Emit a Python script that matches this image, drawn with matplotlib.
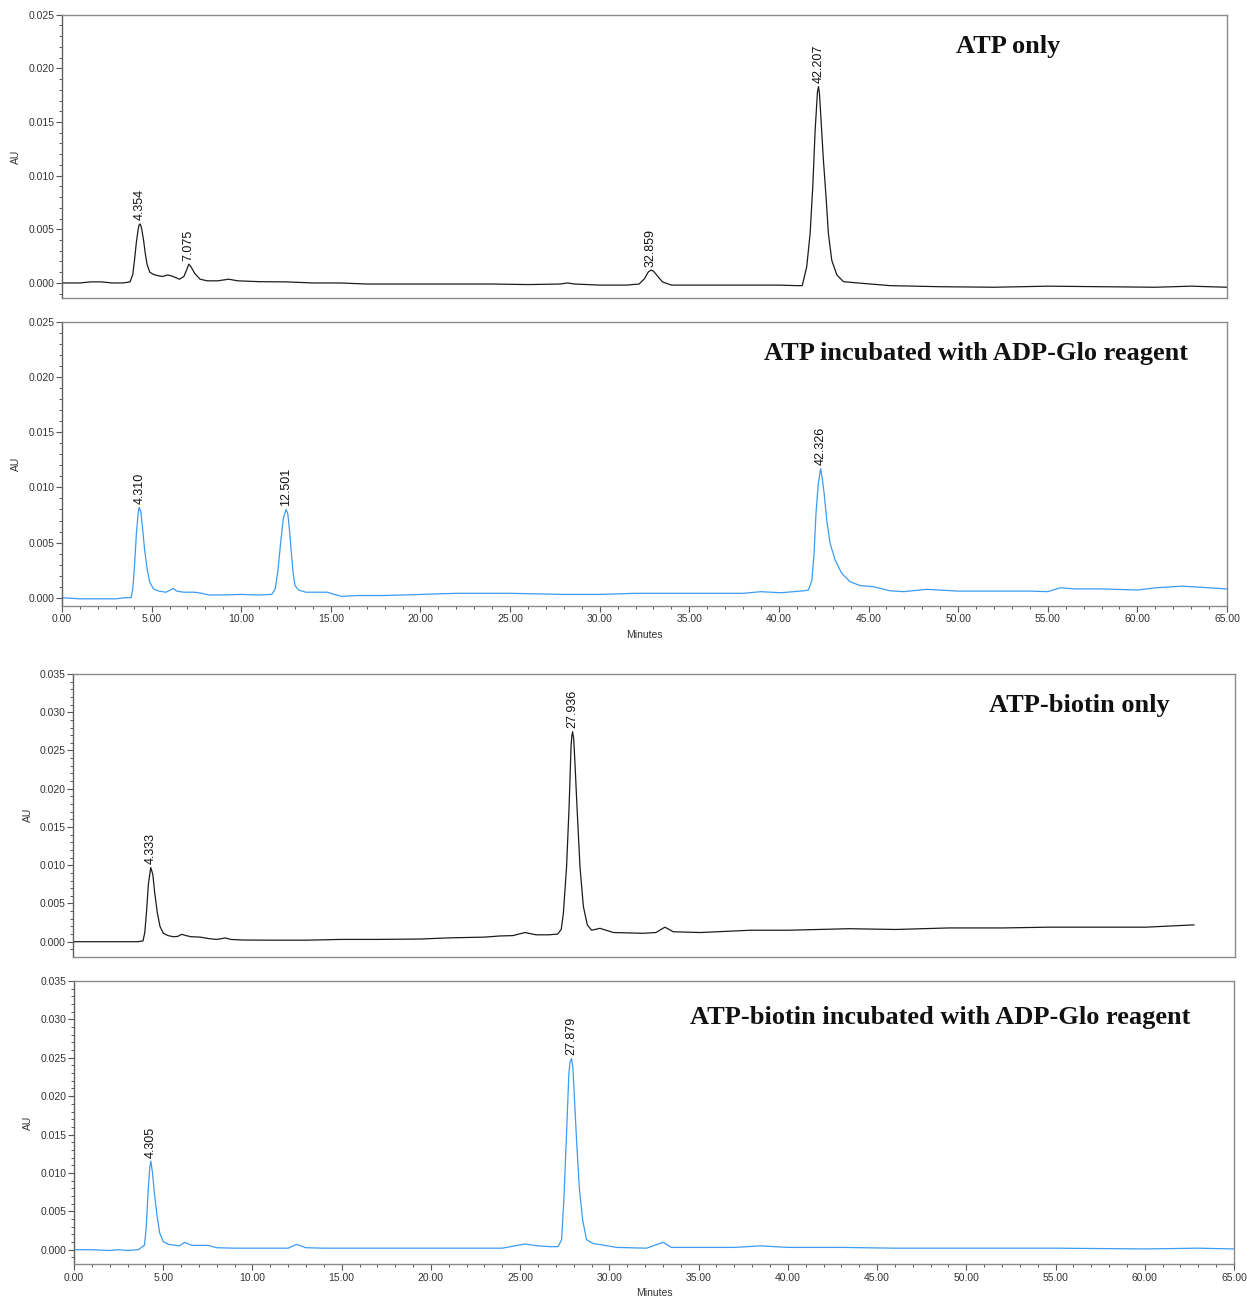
import numpy as np
import matplotlib
matplotlib.use("Agg")
import matplotlib.pyplot as plt
from matplotlib.ticker import MultipleLocator, FormatStrFormatter

plt.rcParams['font.family'] = ['Liberation Sans', 'DejaVu Sans']

# ---------------- data ----------------
# Panel 1: ATP only (minutes, AU)
t_atp = [0, 0.5, 1.0, 1.6, 2.2, 2.8, 3.4, 3.8, 3.95, 4.05, 4.15, 4.25, 4.30, 4.354, 4.41, 4.45,
         4.55, 4.65, 4.75, 4.9, 5.1, 5.3, 5.6, 5.9, 6.2, 6.55, 6.8, 6.95, 7.075, 7.2, 7.4, 7.7,
         8.1, 8.7, 9.3, 9.8, 11, 12.5, 14, 15.5, 17, 18.5, 20, 22, 24, 26, 27.8, 28.2, 28.6, 30,
         31.5, 32.2, 32.5, 32.7, 32.859, 33.0, 33.2, 33.5, 34, 36, 38, 40, 41.0, 41.3, 41.55,
         41.74, 41.89, 42.02, 42.15, 42.207, 42.26, 42.35, 42.48, 42.63, 42.76, 42.95, 43.23,
         43.6, 44.4, 46.2, 49, 52, 55, 58, 61, 63, 65]
au_atp = [0.0000, 0.0000, 0.0000, 0.0001, 0.0001, 0.0000, 0.0000, 0.0001, 0.0008, 0.0022,
          0.0038, 0.0050, 0.0054, 0.0055, 0.0053, 0.0050, 0.0040, 0.0027, 0.0017, 0.0010,
          0.0008, 0.0007, 0.0006, 0.00075, 0.0006, 0.00035, 0.0006, 0.0012, 0.00175, 0.0015,
          0.0009, 0.00035, 0.0002, 0.0002, 0.00035, 0.0002, 0.00012, 0.0001, 0.0000, 0.0000,
          -0.0001, -0.0001, -0.0001, -0.0001, -0.0001, -0.00015, -0.0001, 0.0000, -0.0001,
          -0.0002, -0.0002, -0.0001, 0.0004, 0.0010, 0.0012, 0.0011, 0.0007, 0.0001, -0.0002,
          -0.0002, -0.0002, -0.0002, -0.00025, -0.00025, 0.0015, 0.0046, 0.0090, 0.0142,
          0.0178, 0.0183, 0.0177, 0.0152, 0.0115, 0.0080, 0.0046, 0.0021, 0.00075, 0.00012,
          0.0000, -0.00025, -0.00035, -0.0004, -0.0003, -0.00035, -0.0004, -0.0003, -0.0004]
peaks_atp = ["4.354", "7.075", "32.859", "42.207"]

# Panel 2: ATP incubated with ADP-Glo reagent
t_atp_glo = [0, 1, 2, 3, 3.5, 3.85, 3.95, 4.05, 4.15, 4.25, 4.31, 4.4, 4.5, 4.6, 4.75, 4.9,
             5.1, 5.4, 5.8, 6.05, 6.2, 6.4, 6.8, 7.4, 7.8, 8.2, 9, 10, 11, 11.7, 11.9, 12.05,
             12.2, 12.35, 12.501, 12.6, 12.7, 12.8, 12.9, 13.0, 13.2, 13.6, 14.2, 14.8, 15.2,
             15.6, 16.5, 18, 20, 22, 25, 28, 30, 32, 35, 38, 39, 40.1, 41.4, 41.65, 41.84,
             41.96, 42.07, 42.2, 42.326, 42.42, 42.52, 42.67, 42.86, 43.14, 43.51, 43.97, 44.53,
             45.27, 46.2, 46.95, 48.25, 50, 52, 54, 55, 55.7, 56.5, 58, 60, 61, 62.5, 64, 65]
au_atp_glo = [0.0000, -0.0001, -0.0001, -0.0001, 0.0000, 0.0000, 0.0008, 0.0030, 0.0058,
              0.0077, 0.0082, 0.0078, 0.0062, 0.0045, 0.0026, 0.0014, 0.0008, 0.0006, 0.0005,
              0.0007, 0.00085, 0.0006, 0.0005, 0.0005, 0.0004, 0.00025, 0.00025, 0.0003,
              0.00025, 0.0003, 0.0008, 0.0025, 0.0050, 0.0072, 0.0080, 0.0076, 0.0060, 0.0040,
              0.0022, 0.0011, 0.0007, 0.0005, 0.0005, 0.0005, 0.0003, 0.00012, 0.0002, 0.0002,
              0.0003, 0.0004, 0.0004, 0.0003, 0.0003, 0.0004, 0.0004, 0.0004, 0.00055, 0.00045,
              0.00063, 0.0007, 0.0016, 0.0040, 0.0077, 0.0104, 0.0117, 0.0108, 0.0095, 0.0070,
              0.0049, 0.0034, 0.0022, 0.00145, 0.0011, 0.0010, 0.00063, 0.00055, 0.00076, 0.0006,
              0.0006, 0.0006, 0.00055, 0.0009, 0.0008, 0.0008, 0.0007, 0.0009, 0.00105, 0.0009,
              0.0008]
peaks_atp_glo = ["4.310", "12.501", "42.326"]

# Panel 3: ATP-biotin only
t_bio = [0, 1, 2, 3, 3.6, 3.9, 4.0, 4.1, 4.2, 4.333, 4.45, 4.55, 4.7, 4.85, 5.04, 5.3, 5.6,
         5.85, 6.07, 6.3, 6.6, 7.1, 7.6, 8.0, 8.3, 8.5, 8.8, 9.5, 11, 13, 15, 17, 19.4, 21, 23,
         23.87, 24.6, 25.27, 25.9, 26.6, 27.1, 27.3, 27.42, 27.6, 27.74, 27.85, 27.89, 27.936,
         28.0, 28.07, 28.2, 28.35, 28.54, 28.76, 29.0, 29.47, 30.22, 31.9, 32.6, 33.1, 33.57,
         35.07, 37.9, 40, 43.4, 46, 49, 52, 54.6, 57.5, 60, 62.7]
au_bio = [0.0000, 0.0000, 0.0000, 0.0000, 0.0000, 0.0001, 0.0012, 0.0040, 0.0075, 0.0097,
          0.0088, 0.0065, 0.0038, 0.0020, 0.0011, 0.0008, 0.00065, 0.0007, 0.00097, 0.0008,
          0.00065, 0.0006, 0.0004, 0.0003, 0.0004, 0.0005, 0.0003, 0.00022, 0.0002, 0.0002,
          0.0003, 0.0003, 0.00035, 0.0005, 0.0006, 0.00075, 0.0008, 0.0012, 0.0009, 0.0009,
          0.0010, 0.0016, 0.0037, 0.0098, 0.0176, 0.0255, 0.0268, 0.02745, 0.0265, 0.0233,
          0.0168, 0.0098, 0.0046, 0.0022, 0.0015, 0.00175, 0.0012, 0.0011, 0.0012, 0.0019,
          0.0013, 0.0012, 0.0015, 0.0015, 0.0017, 0.0016, 0.0018, 0.0018, 0.0019, 0.0019,
          0.0019, 0.0022]
peaks_bio = ["4.333", "27.936"]

# Panel 4: ATP-biotin incubated with ADP-Glo reagent
t_bio_glo = [0, 1, 2, 2.5, 3, 3.6, 3.95, 4.05, 4.15, 4.25, 4.305, 4.4, 4.5, 4.65, 4.8, 5.0,
             5.3, 5.9, 6.2, 6.6, 7.5, 8.0, 9, 10, 11, 12, 12.47, 13, 14, 16, 18, 20, 22, 24,
             25.27, 26, 26.67, 27.13, 27.32, 27.45, 27.6, 27.73, 27.8, 27.879, 27.95, 28.01,
             28.16, 28.31, 28.5, 28.72, 29.1, 29.65, 30.4, 32.08, 33.01, 33.48, 35, 37, 38.5,
             40, 43, 46, 50, 55, 60, 63, 65]
au_bio_glo = [0.0000, 0.0000, -0.0001, 0.0000, -0.0001, 0.0000, 0.0006, 0.0030, 0.0075,
              0.0108, 0.01155, 0.0100, 0.0075, 0.0045, 0.0022, 0.00104, 0.0007, 0.0005,
              0.00096, 0.00057, 0.00057, 0.00026, 0.0002, 0.0002, 0.0002, 0.0002, 0.0007,
              0.00026, 0.0002, 0.0002, 0.0002, 0.0002, 0.0002, 0.0002, 0.00074, 0.0005, 0.0004,
              0.0004, 0.0013, 0.0065, 0.0152, 0.0230, 0.0245, 0.0249, 0.0238, 0.0212, 0.0143,
              0.0082, 0.0039, 0.0013, 0.0008, 0.0006, 0.0003, 0.0002, 0.00096, 0.0003, 0.0003,
              0.0003, 0.0005, 0.0003, 0.0003, 0.0002, 0.0002, 0.0002, 0.0001, 0.0002, 0.0001]
peaks_bio_glo = ["4.305", "27.879"]

titles = ["ATP only", "ATP incubated with ADP-Glo reagent",
          "ATP-biotin only", "ATP-biotin incubated with ADP-Glo reagent"]

# ---------------- figure ----------------
W, H = 1247, 1299
fig = plt.figure(figsize=(W / 100, H / 100), dpi=100)


def rect(l, r, top, bottom):
    return [l / W, 1 - bottom / H, (r - l) / W, (bottom - top) / H]


BLACK = "#1c1c1c"
BLUE = "#3b9cf2"
SPINE = "#8a8a8a"
TICKC = "#555555"
LABC = "#333333"


def panel(box, t, v, color, ylim, peaks, show_x, title, title_xy):
    ax = fig.add_axes(rect(*box))
    ax.plot(t, v, color=color, lw=0.9)
    ax.set_xlim(0, 65)
    ax.set_ylim(*ylim)
    for s in ax.spines.values():
        s.set_color(SPINE)
        s.set_linewidth(1.0)
    ax.spines['left'].set_color("#606060")
    ax.yaxis.set_major_locator(MultipleLocator(0.005))
    ax.yaxis.set_minor_locator(MultipleLocator(0.001))
    ax.yaxis.set_major_formatter(FormatStrFormatter('%.3f'))
    ax.xaxis.set_major_locator(MultipleLocator(5))
    ax.xaxis.set_minor_locator(MultipleLocator(1))
    ax.xaxis.set_major_formatter(FormatStrFormatter('%.2f'))
    ax.tick_params(axis='y', which='major', length=4, width=0.8, color=TICKC,
                   labelsize=7.5, labelcolor=LABC, pad=1.5, right=False)
    ax.tick_params(axis='y', which='minor', length=2.5, width=0.7, color=TICKC, right=False)
    if show_x:
        ax.tick_params(axis='x', which='major', length=4, width=0.8, color=TICKC,
                       labelsize=7.5, labelcolor=LABC, pad=2, top=False)
        ax.tick_params(axis='x', which='minor', length=2.5, width=0.7, color=TICKC, top=False)
        ax.set_xlabel("Minutes", fontsize=7.5, color=LABC)
        ax.xaxis.set_label_coords(0.5, -0.085)
    else:
        ax.tick_params(axis='x', which='both', bottom=False, top=False, labelbottom=False)
    ax.set_ylabel("AU", fontsize=7.5, color=LABC)
    ax.yaxis.set_label_coords(-0.035, 0.5)
    ta = np.array(t, dtype=float)
    va = np.array(v, dtype=float)
    for lab in peaks:
        rt = float(lab)
        h = float(np.interp(rt, ta, va))
        ax.annotate(lab, xy=(rt, h), xytext=(0, 2.5), textcoords='offset points',
                    rotation=90, ha='center', va='bottom', fontsize=9, color="#111111")
    fig.text(title_xy[0] / W, 1 - title_xy[1] / H, title, ha='right', va='baseline',
             fontsize=19, fontweight='bold', family=['Liberation Serif', 'DejaVu Serif'],
             color="#111111")
    return ax


panel((62, 1227, 14.7, 298.3), t_atp, au_atp, BLACK, (-0.00143, 0.025), peaks_atp,
      False, titles[0], (1060, 53))
panel((62, 1227, 322, 606), t_atp_glo, au_atp_glo, BLUE, (-0.00075, 0.025), peaks_atp_glo,
      True, titles[1], (1188, 360))
panel((73.3, 1235, 674, 956.7), t_bio, au_bio, BLACK, (-0.00196, 0.035), peaks_bio,
      False, titles[2], (1170, 712))
panel((74, 1234, 981, 1264.3), t_bio_glo, au_bio_glo, BLUE, (-0.0019, 0.035), peaks_bio_glo,
      True, titles[3], (1190, 1024))

fig.savefig("out.png", dpi=100)
